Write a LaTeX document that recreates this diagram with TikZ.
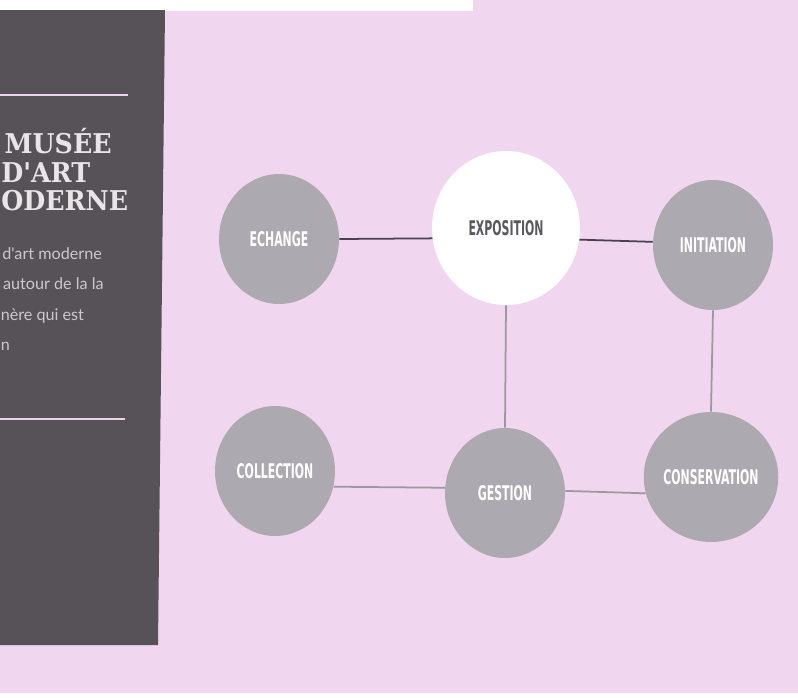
\documentclass[tikz,border=0pt]{standalone}
\usepackage{fontspec}
\usepackage{tikz}
\usetikzlibrary{shapes.geometric}
\newfontfamily\titlefont{DejaVu Serif}[FakeStretch=0.93]
\newfontfamily\bodyfont{Lato}
\newfontfamily\bubblefont{DejaVu Sans Condensed Bold}[FakeStretch=0.6]
\definecolor{pinkbg}{RGB}{240,214,238}
\definecolor{panelgrey}{RGB}{86,82,88}
\definecolor{bubblegrey}{RGB}{172,170,176}
\definecolor{rulepink}{RGB}{232,214,232}
\definecolor{linkdark}{RGB}{70,66,78}
\definecolor{linkgrey}{RGB}{155,152,160}
\definecolor{titlewhite}{RGB}{232,228,232}
\definecolor{bodygrey}{RGB}{205,200,205}
\definecolor{expotext}{RGB}{90,88,95}

\begin{document}
\begin{tikzpicture}[x=0.02cm, y=-0.02cm,
        bubble/.style={ellipse, fill=bubblegrey, inner sep=0pt,
                       minimum width=2.4cm, minimum height=2.6cm,
                       text=white, font=\bubblefont\fontsize{11.5}{12}\selectfont},
        bigbubble/.style={bubble, fill=white, text=expotext,
                          minimum width=2.96cm, minimum height=3.08cm},
        darklink/.style={draw=linkdark, line width=1pt},
        greylink/.style={draw=linkgrey, line width=1pt},
        panelrule/.style={draw=rulepink, line width=1.2pt},
        titleline/.style={anchor=base west, inner sep=0pt, text=titlewhite,
                          font=\titlefont\bfseries\fontsize{15.5}{18}\selectfont},
        bodyline/.style={anchor=base west, inner sep=0pt, text=bodygrey,
                         font=\bodyfont\fontsize{9.2}{11}\selectfont}
                            ]
        \useasboundingbox (0,0) rectangle (798,697);
        % paper
        \fill[pinkbg] (0,0) rectangle (798,697);
        \fill[white] (0,0) rectangle (473,11);
        \fill[white] (0,693) rectangle (798,697);
        % side panel
        \fill[panelgrey] (0,10) -- (165,10) -- (158,645) -- (0,645) -- cycle;
        \draw[panelrule] (0,95) -- (128,95);
        \draw[panelrule] (0,419) -- (125,419);
        \node[titleline, anchor=base east] (musee) at (112,153) {MUSÉE};
        \node[titleline] (dart) at (1,182) {D'ART};
        \node[titleline] (moderne) at (1,210) {ODERNE};
        \node[bodyline] (txta) at (2,259) {d'art moderne};
        \node[bodyline, anchor=base east] (txtb) at (104,289) {autour de la la};
        \node[bodyline] (txtc) at (0.5,320) {nère qui est};
        \node[bodyline] (txtd) at (0.5,350) {n};
        % bubbles
        \node[bubble] (echange) at (279,239) {ECHANGE};
        \node[bigbubble] (exposition) at (506,228) {EXPOSITION};
        \node[bubble] (initiation) at (713,245) {INITIATION};
        \node[bubble] (collection) at (275,471) {COLLECTION};
        \node[bubble] (gestion) at (505,493) {GESTION};
        \node[bubble] (conservation) at (711,477) {CONSERVATION};
        % links
        \draw[darklink] (echange.east) -- (exposition.188);
        \draw[darklink] (exposition.-9) -- (initiation.177);
        \draw[greylink] (exposition.south) -- (gestion.north);
        \draw[greylink] (initiation.south) -- (conservation.north);
        \draw[greylink] (collection.-15) -- (gestion.175);
        \draw[greylink] (gestion.2) -- (conservation.194);
\end{tikzpicture}
\end{document}
